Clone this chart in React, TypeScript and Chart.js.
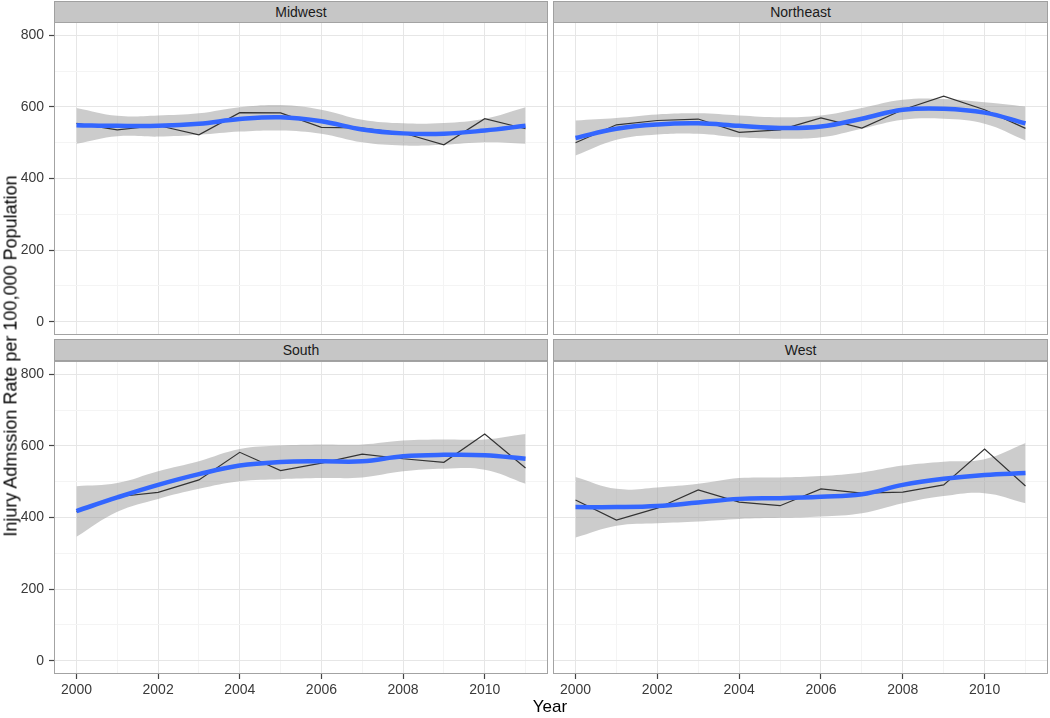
import React, { useEffect, useRef } from "react";
import { Chart, registerables } from "chart.js";

Chart.register(...registerables);

const years = [2000, 2001, 2002, 2003, 2004, 2005, 2006, 2007, 2008, 2009, 2010, 2011];
const xTicks = [2000, 2001, 2002, 2003, 2004, 2005, 2006, 2007, 2008, 2009, 2010, 2011];
const yTicks = [0, 100, 200, 300, 400, 500, 600, 700, 800];

const regions = ["Midwest", "Northeast", "South", "West"];

const midwestRate = [554, 536, 548, 522, 584, 583, 543, 541, 527, 494, 567, 539];
const midwestSmooth = [549, 547, 547, 553, 566, 571, 560, 537, 526, 525, 534, 547];
const midwestUpper = [597, 575, 576, 582, 599, 605, 592, 564, 554, 555, 567, 599];
const midwestLower = [497, 518, 517, 522, 531, 534, 525, 501, 492, 494, 501, 497];

const northeastRate = [500, 550, 562, 566, 529, 536, 569, 541, 592, 630, 592, 540];
const northeastSmooth = [513, 539, 551, 554, 547, 541, 545, 567, 592, 595, 584, 554];
const northeastUpper = [562, 569, 579, 582, 576, 571, 576, 597, 620, 622, 613, 601];
const northeastLower = [464, 508, 523, 525, 515, 511, 515, 539, 564, 567, 553, 506];

const southRate = [416, 458, 470, 505, 582, 531, 552, 577, 564, 554, 633, 538];
const southSmooth = [418, 456, 491, 521, 545, 555, 557, 557, 571, 575, 574, 564];
const southUpper = [487, 496, 529, 557, 591, 601, 604, 604, 615, 618, 618, 633];
const southLower = [346, 416, 452, 480, 501, 507, 510, 512, 529, 536, 533, 494];

const westRate = [449, 393, 426, 477, 443, 433, 480, 468, 471, 491, 591, 488];
const westSmooth = [429, 429, 432, 442, 452, 454, 458, 465, 491, 508, 519, 524];
const westUpper = [513, 480, 484, 494, 510, 512, 516, 526, 545, 556, 563, 608];
const westLower = [344, 377, 384, 389, 396, 399, 403, 412, 440, 460, 468, 440];

const panelData = [
  { rate: midwestRate, smooth: midwestSmooth, upper: midwestUpper, lower: midwestLower },
  { rate: northeastRate, smooth: northeastSmooth, upper: northeastUpper, lower: northeastLower },
  { rate: southRate, smooth: southSmooth, upper: southUpper, lower: southLower },
  { rate: westRate, smooth: westSmooth, upper: westUpper, lower: westLower },
];

const FONT = "'Liberation Sans', Arial, Helvetica, sans-serif";

const borderPlugin = {
  id: "panelBorder",
  afterDraw(chart: any) {
    const { ctx, chartArea } = chart;
    ctx.save();
    ctx.strokeStyle = "#a3a3a3";
    ctx.lineWidth = 1;
    ctx.strokeRect(
      chartArea.left + 0.5,
      chartArea.top + 0.5,
      chartArea.right - chartArea.left - 1,
      chartArea.bottom - chartArea.top - 1
    );
    ctx.restore();
  },
};

type PanelProps = {
  idx: number;
  left: number;
  top: number;
  width: number;
  height: number;
  showY: boolean;
  showX: boolean;
};

function Panel({ idx, left, top, width, height, showY, showX }: PanelProps) {
  const ref = useRef<HTMLCanvasElement | null>(null);
  useEffect(() => {
    if (!ref.current) return;
    const d = panelData[idx];
    const pts = (arr: number[]) => years.map((y, i) => ({ x: y, y: arr[i] }));
    const chart = new Chart(ref.current, {
      type: "line",
      data: {
        datasets: [
          {
            data: pts(d.smooth),
            borderColor: "#3366FF",
            borderWidth: 4.5,
            pointRadius: 0,
            tension: 0.4,
            fill: false,
          },
          {
            data: pts(d.rate),
            borderColor: "#333333",
            borderWidth: 1.2,
            pointRadius: 0,
            tension: 0,
            fill: false,
          },
          {
            data: pts(d.upper),
            borderColor: "rgba(0,0,0,0)",
            borderWidth: 0,
            pointRadius: 0,
            tension: 0.4,
            backgroundColor: "rgba(153,153,153,0.5)",
            fill: "+1",
          },
          {
            data: pts(d.lower),
            borderColor: "rgba(0,0,0,0)",
            borderWidth: 0,
            pointRadius: 0,
            tension: 0.4,
            fill: false,
          },
        ],
      } as any,
      options: {
        animation: false,
        responsive: false,
        devicePixelRatio: 1,
        events: [],
        layout: { padding: 0 },
        plugins: {
          legend: { display: false },
          title: { display: false },
          tooltip: { enabled: false },
        },
        scales: {
          x: {
            type: "linear",
            min: 1999.45,
            max: 2011.55,
            afterBuildTicks: (s: any) => {
              s.ticks = xTicks.map((v) => ({ value: v }));
            },
            afterFit: (s: any) => {
              s.height = showX ? height - 313 : 0;
              s.paddingLeft = 0;
              s.paddingRight = 0;
              s.paddingTop = 0;
              s.paddingBottom = 0;
            },
            border: { display: false },
            grid: {
              color: (c: any) => (c.tick && c.tick.value % 2 === 0 ? "#e6e6e6" : "#f4f4f4"),
              lineWidth: 1,
              drawTicks: showX,
              tickLength: 5,
              tickColor: (c: any) => (c.tick && c.tick.value % 2 === 0 ? "#444444" : "rgba(0,0,0,0)"),
              tickWidth: 1.2,
            },
            ticks: {
              display: showX,
              autoSkip: false,
              maxRotation: 0,
              minRotation: 0,
              padding: 3,
              color: "#3a3a3a",
              font: { family: FONT, size: 14 },
              callback: (v: any) => (Number(v) % 2 === 0 ? String(v) : ""),
            },
          },
          y: {
            type: "linear",
            min: -37,
            max: 837,
            afterBuildTicks: (s: any) => {
              s.ticks = yTicks.map((v) => ({ value: v }));
            },
            afterFit: (s: any) => {
              s.width = showY ? 54 : 0;
              s.paddingLeft = 0;
              s.paddingRight = 0;
              s.paddingTop = 0;
              s.paddingBottom = 0;
            },
            border: { display: false },
            grid: {
              color: (c: any) => (c.tick && c.tick.value % 200 === 0 ? "#e6e6e6" : "#f4f4f4"),
              lineWidth: 1,
              drawTicks: showY,
              tickLength: 5,
              tickColor: (c: any) => (c.tick && c.tick.value % 200 === 0 ? "#444444" : "rgba(0,0,0,0)"),
              tickWidth: 1.2,
            },
            ticks: {
              display: showY,
              autoSkip: false,
              padding: 5,
              color: "#3a3a3a",
              font: { family: FONT, size: 14 },
              callback: (v: any) => (Number(v) % 200 === 0 ? String(v) : ""),
            },
          },
        },
      } as any,
      plugins: [borderPlugin],
    });
    return () => chart.destroy();
  }, [idx, width, height, showX, showY]);

  return (
    <canvas
      ref={ref}
      width={width}
      height={height}
      style={{ position: "absolute", left, top, width, height }}
    />
  );
}

function Strip({ label, left, top, width }: { label: string; left: number; top: number; width: number }) {
  return (
    <div
      style={{
        position: "absolute",
        left,
        top,
        width,
        height: 22,
        boxSizing: "border-box",
        background: "#c6c6c6",
        border: "1px solid #a0a0a0",
        fontFamily: FONT,
        fontSize: 14,
        color: "#1a1a1a",
        textAlign: "center",
        lineHeight: "20px",
      }}
    >
      {label}
    </div>
  );
}

export default function App() {
  return (
    <div
      style={{
        position: "absolute",
        left: 0,
        top: 0,
        width: 1050,
        height: 718,
        background: "#ffffff",
        overflow: "hidden",
      }}
    >
      <Strip label={regions[0]} left={54} top={1} width={494} />
      <Strip label={regions[1]} left={553} top={1} width={495} />
      <Strip label={regions[2]} left={54} top={339} width={494} />
      <Strip label={regions[3]} left={553} top={339} width={495} />

      <Panel idx={0} left={0} top={22} width={548} height={313} showY={true} showX={false} />
      <Panel idx={1} left={553} top={22} width={495} height={313} showY={false} showX={false} />
      <Panel idx={2} left={0} top={361} width={548} height={357} showY={true} showX={true} />
      <Panel idx={3} left={553} top={361} width={495} height={357} showY={false} showX={true} />

      <div
        style={{
          position: "absolute",
          left: 11,
          top: 356,
          transform: "translate(-50%, -50%) rotate(-90deg)",
          whiteSpace: "nowrap",
          fontFamily: FONT,
          fontSize: 18,
          color: "#000000",
        }}
      >
        Injury Admssion Rate per 100,000 Population
      </div>
      <div
        style={{
          position: "absolute",
          left: 550,
          top: 707,
          transform: "translate(-50%, -50%)",
          whiteSpace: "nowrap",
          fontFamily: FONT,
          fontSize: 17,
          color: "#000000",
        }}
      >
        Year
      </div>
    </div>
  );
}
